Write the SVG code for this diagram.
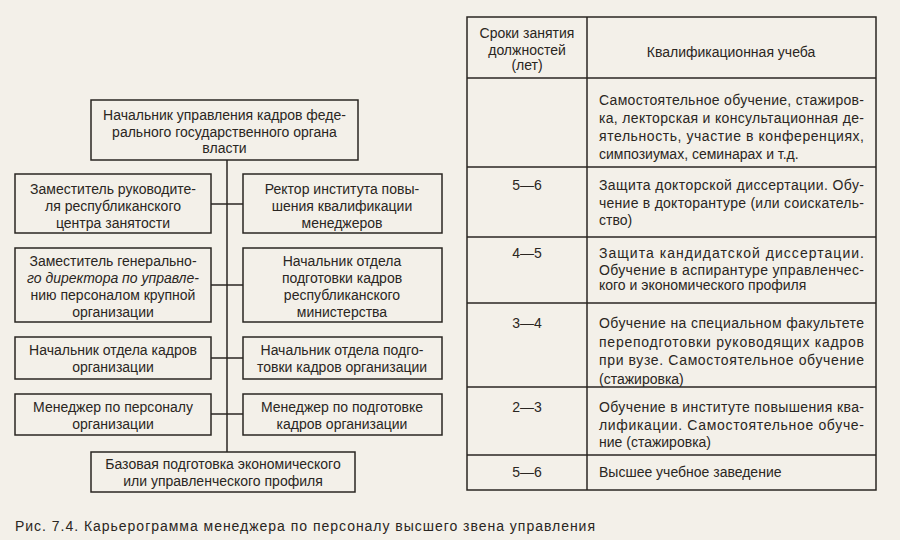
<svg xmlns="http://www.w3.org/2000/svg" width="900" height="540" viewBox="0 0 900 540">
<style>
text{font-family:"Liberation Sans","DejaVu Sans",sans-serif;font-size:14px;fill:#2a2622}
.c{text-anchor:middle}
rect.b{fill:none;stroke:#2a2622;stroke-width:1.5}
line{stroke:#2a2622;stroke-width:1.5}
</style>
<rect width="900" height="540" fill="#f3f0e9"/>
<g id="connectors">
<line x1="227" y1="160" x2="227" y2="452"/>
<line x1="211" y1="204" x2="243" y2="204"/>
<line x1="211" y1="285" x2="243" y2="285"/>
<line x1="211" y1="358" x2="243" y2="358"/>
<line x1="211" y1="414" x2="243" y2="414"/>
</g>
<g id="n-top"><rect class="b" x="91" y="100" width="267" height="60"/>
<text class="c" x="224.500" y="120">Начальник управления кадров феде-</text>
<text class="c" x="224.500" y="137">рального государственного органа</text>
<text class="c" x="224.500" y="153">власти</text></g>
<g id="n-l1"><rect class="b" x="15" y="174" width="196" height="59"/>
<text class="c" x="113" y="194">Заместитель руководите-</text>
<text class="c" x="113" y="211">ля республиканского</text>
<text class="c" x="113" y="228">центра занятости</text></g>
<g id="n-r1"><rect class="b" x="243" y="174" width="199" height="59"/>
<text class="c" x="342" y="194">Ректор института повы-</text>
<text class="c" x="342" y="211">шения квалификации</text>
<text class="c" x="342" y="228">менеджеров</text></g>
<g id="n-l2"><rect class="b" x="15" y="248" width="196" height="74"/>
<text class="c" x="113" y="266">Заместитель генерально-</text>
<text class="c" x="113" y="283" font-style="italic">го директора по управле-</text>
<text class="c" x="113" y="300">нию персоналом крупной</text>
<text class="c" x="113" y="317">организации</text></g>
<g id="n-r2"><rect class="b" x="243" y="248" width="199" height="74"/>
<text class="c" x="342" y="266">Начальник отдела</text>
<text class="c" x="342" y="283">подготовки кадров</text>
<text class="c" x="342" y="300">республиканского</text>
<text class="c" x="342" y="317">министерства</text></g>
<g id="n-l3"><rect class="b" x="15" y="337" width="196" height="42"/>
<text class="c" x="113" y="355">Начальник отдела кадров</text>
<text class="c" x="113" y="372">организации</text></g>
<g id="n-r3"><rect class="b" x="243" y="337" width="199" height="42"/>
<text class="c" x="342" y="355">Начальник отдела подго-</text>
<text class="c" x="342" y="372">товки кадров организации</text></g>
<g id="n-l4"><rect class="b" x="15" y="394" width="196" height="41"/>
<text class="c" x="113" y="412">Менеджер по персоналу</text>
<text class="c" x="113" y="429">организации</text></g>
<g id="n-r4"><rect class="b" x="243" y="394" width="199" height="41"/>
<text class="c" x="342" y="412">Менеджер по подготовке</text>
<text class="c" x="342" y="429">кадров организации</text></g>
<g id="n-base"><rect class="b" x="91" y="452" width="264" height="40"/>
<text class="c" x="223" y="469">Базовая подготовка экономического</text>
<text class="c" x="223" y="486">или управленческого профиля</text></g>
<g id="table">
<rect class="b" x="467" y="17" width="409" height="473"/>
<line x1="587" y1="17" x2="587" y2="490"/>
<line x1="467" y1="78" x2="876" y2="78"/>
<line x1="467" y1="167" x2="876" y2="167"/>
<line x1="467" y1="237" x2="876" y2="237"/>
<line x1="467" y1="303" x2="876" y2="303"/>
<line x1="467" y1="387" x2="876" y2="387"/>
<line x1="467" y1="455" x2="876" y2="455"/>
<text class="c" x="527" y="38">Сроки занятия</text>
<text class="c" x="527" y="55">должностей</text>
<text class="c" x="527" y="70">(лет)</text>
<text class="c" x="731" y="57">Квалификационная учеба</text>
<text x="599" y="105" textLength="265" lengthAdjust="spacing">Самостоятельное обучение, стажиров-</text>
<text x="599" y="123" textLength="265" lengthAdjust="spacing">ка, лекторская и консультационная де-</text>
<text x="599" y="141" textLength="265" lengthAdjust="spacing">ятельность, участие в конференциях,</text>
<text x="599" y="159">симпозиумах, семинарах и т.д.</text>
<text class="c" x="527" y="190">5—6</text>
<text x="599" y="190" textLength="265" lengthAdjust="spacing">Защита докторской диссертации. Обу-</text>
<text x="599" y="208" textLength="265" lengthAdjust="spacing">чение в докторантуре (или соискатель-</text>
<text x="599" y="225">ство)</text>
<text class="c" x="527" y="258">4—5</text>
<text x="599" y="258" textLength="265" lengthAdjust="spacing">Защита кандидатской диссертации.</text>
<text x="599" y="275" textLength="265" lengthAdjust="spacing">Обучение в аспирантуре управленчес-</text>
<text x="599" y="290">кого и экономического профиля</text>
<text class="c" x="527" y="328">3—4</text>
<text x="599" y="328" textLength="265" lengthAdjust="spacing">Обучение на специальном факультете</text>
<text x="599" y="347" textLength="265" lengthAdjust="spacing">переподготовки руководящих кадров</text>
<text x="599" y="365" textLength="265" lengthAdjust="spacing">при вузе. Самостоятельное обучение</text>
<text x="599" y="384">(стажировка)</text>
<text class="c" x="527" y="412">2—3</text>
<text x="599" y="412" textLength="265" lengthAdjust="spacing">Обучение в институте повышения ква-</text>
<text x="599" y="430" textLength="265" lengthAdjust="spacing">лификации. Самостоятельное обуче-</text>
<text x="599" y="447">ние (стажировка)</text>
<text class="c" x="527" y="477">5—6</text>
<text x="599" y="477">Высшее учебное заведение</text>
</g>
<text x="15" y="531" font-size="12" textLength="580" lengthAdjust="spacing">Рис. 7.4. Карьерограмма менеджера по персоналу высшего звена управления</text>
</svg>
